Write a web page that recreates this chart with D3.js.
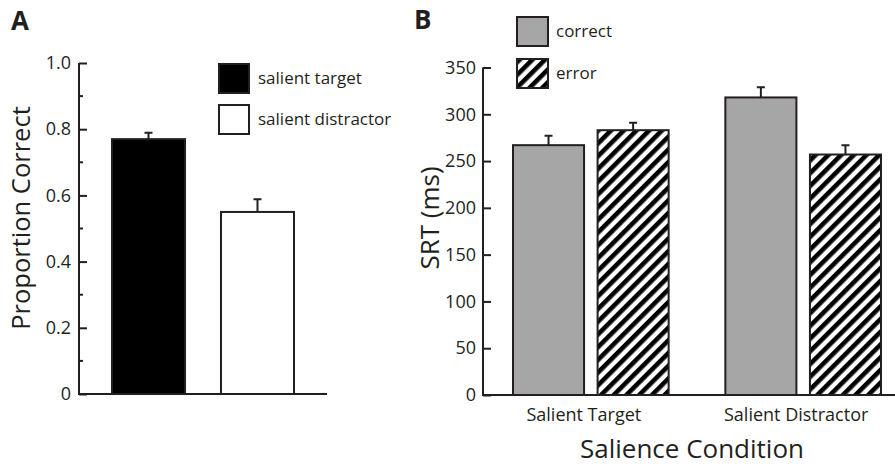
<!DOCTYPE html>
<html>
<head>
<meta charset="utf-8">
<script src="https://cdn.jsdelivr.net/npm/d3@7"></script>
<style>
  body { margin: 0; background: #fff; }
  svg { display: block; font-family: "Open Sans", sans-serif; fill: #231f20; }
  .domain, .tick line { stroke: #231f20; stroke-width: 2; }
</style>
</head>
<body>
<div id="chart"></div>
<script>
// ---- data, panel A ----
var accConditions = ["salient target", "salient distractor"];
var accMeans = [0.77, 0.55];
var accErrors = [0.019, 0.038];
var accFills = ["#000000", "#ffffff"];
var accTicks = [0, 0.2, 0.4, 0.6, 0.8, 1.0];
var accMinorTicks = [0.1, 0.3, 0.5, 0.7, 0.9];

// ---- data, panel B ----
var srtConditions = ["Salient Target", "Salient Distractor"];
var srtOutcomes = ["correct", "error"];
var srtCorrect = [267, 318];
var srtError = [283, 257];
var srtCorrectErr = [10, 11];
var srtErrorErr = [8, 10];
var srtTicks = [0, 50, 100, 150, 200, 250, 300, 350];

var W = 895, H = 466;
var ink = "#231f20";

var svg = d3.select("#chart").append("svg")
    .attr("width", W)
    .attr("height", H);

var defs = svg.append("defs");
var hatch = defs.append("pattern")
    .attr("id", "hatch")
    .attr("patternUnits", "userSpaceOnUse")
    .attr("width", 9)
    .attr("height", 9)
    .attr("patternTransform", "rotate(45)");
hatch.append("rect").attr("width", 9).attr("height", 9).attr("fill", "#fff");
hatch.append("rect").attr("x", 0).attr("width", 4.6).attr("height", 9).attr("fill", "#000");

function styleTicks(g) {
    g.selectAll(".tick text")
        .attr("x", -7)
        .attr("text-anchor", "end")
        .attr("font-size", 18)
        .attr("font-family", "'Open Sans', sans-serif")
        .attr("fill", ink);
}

//<------ panel A ------>
var yA = d3.scaleLinear().domain([0, 1]).range([394, 63]);
var xA = d3.scaleBand().domain(accConditions).range([112, 294]).paddingInner(0.33).paddingOuter(0);

var gA = svg.append("g");

gA.append("g")
    .attr("transform", "translate(79,0)")
    .call(d3.axisRight(yA).tickValues(accTicks).tickSize(8)
        .tickFormat(function(d) { return d === 0 ? "0" : d3.format(".1f")(d); }))
    .call(function(g) {
        g.select(".domain").attr("d", "M0," + yA(0) + "V" + yA(1));
        styleTicks(g);
        g.selectAll(".tick text").attr("x", -8);
    });

gA.append("g")
    .selectAll("line")
    .data(accMinorTicks)
    .enter().append("line")
    .attr("x1", 79).attr("x2", 83)
    .attr("y1", function(d) { return yA(d); })
    .attr("y2", function(d) { return yA(d); })
    .style("stroke", ink).style("stroke-width", 2);

gA.append("line")
    .attr("x1", 78).attr("x2", 327)
    .attr("y1", yA(0)).attr("y2", yA(0))
    .style("stroke", ink).style("stroke-width", 2);

gA.selectAll(".errA")
    .data(accConditions)
    .enter().append("path")
    .attr("class", "errA")
    .attr("d", function(d, i) {
        var cx = xA(d) + xA.bandwidth() / 2;
        var top = yA(accMeans[i] + accErrors[i]);
        return "M" + cx + "," + yA(accMeans[i]) + "V" + top + "M" + (cx - 4) + "," + top + "H" + (cx + 4);
    })
    .style("stroke", ink).style("stroke-width", 2).style("fill", "none");

gA.selectAll(".barA")
    .data(accConditions)
    .enter().append("rect")
    .attr("class", "barA")
    .attr("x", function(d) { return xA(d); })
    .attr("y", function(d, i) { return yA(accMeans[i]); })
    .attr("width", xA.bandwidth())
    .attr("height", function(d, i) { return yA(0) - yA(accMeans[i]); })
    .style("fill", function(d, i) { return accFills[i]; })
    .style("stroke", ink).style("stroke-width", 2);

var legA = gA.selectAll(".legA")
    .data(accConditions)
    .enter().append("g")
    .attr("class", "legA")
    .attr("transform", function(d, i) { return "translate(219," + (64 + i * 41) + ")"; });
legA.append("rect")
    .attr("width", 30).attr("height", 29)
    .style("fill", function(d, i) { return accFills[i]; })
    .style("stroke", ink).style("stroke-width", 2);
legA.append("text")
    .attr("x", 39).attr("y", 20)
    .style("font-size", "17px")
    .text(function(d) { return d; });

gA.append("text")
    .attr("transform", "translate(30,218) rotate(-90)")
    .attr("text-anchor", "middle")
    .style("font-size", "25.5px")
    .text("Proportion Correct");

gA.append("text")
    .attr("x", 11).attr("y", 30)
    .style("font-size", "26px").style("font-weight", "bold")
    .text("A");

//<------ panel B ------>
var yB = d3.scaleLinear().domain([0, 350]).range([395, 67.5]);
var x0 = d3.scaleBand().domain(srtConditions).range([513, 881]).paddingInner(0.267).paddingOuter(0);
var x1 = d3.scaleBand().domain(srtOutcomes).range([0, x0.bandwidth()]).paddingInner(0.16).paddingOuter(0);

var srtRows = [];
srtConditions.forEach(function(c, i) {
    srtRows.push({ cond: c, outcome: "correct", value: srtCorrect[i], err: srtCorrectErr[i] });
    srtRows.push({ cond: c, outcome: "error", value: srtError[i], err: srtErrorErr[i] });
});
var outcomeFill = { correct: "#a6a6a6", error: "url(#hatch)" };

var gB = svg.append("g");

gB.append("g")
    .attr("transform", "translate(483,0)")
    .call(d3.axisRight(yB).tickValues(srtTicks).tickSize(8))
    .call(function(g) {
        g.select(".domain").attr("d", "M0," + yB(0) + "V" + yB(350));
        styleTicks(g);
    });

gB.append("line")
    .attr("x1", 482).attr("x2", 895)
    .attr("y1", yB(0)).attr("y2", yB(0))
    .style("stroke", ink).style("stroke-width", 2);

gB.selectAll(".errB")
    .data(srtRows)
    .enter().append("path")
    .attr("class", "errB")
    .attr("d", function(d) {
        var cx = x0(d.cond) + x1(d.outcome) + x1.bandwidth() / 2;
        var top = yB(d.value + d.err);
        return "M" + cx + "," + yB(d.value) + "V" + top + "M" + (cx - 4) + "," + top + "H" + (cx + 4);
    })
    .style("stroke", ink).style("stroke-width", 2).style("fill", "none");

gB.selectAll(".barB")
    .data(srtRows)
    .enter().append("rect")
    .attr("class", "barB")
    .attr("x", function(d) { return x0(d.cond) + x1(d.outcome); })
    .attr("y", function(d) { return yB(d.value); })
    .attr("width", x1.bandwidth())
    .attr("height", function(d) { return yB(0) - yB(d.value); })
    .style("fill", function(d) { return outcomeFill[d.outcome]; })
    .style("stroke", ink).style("stroke-width", 2);

gB.selectAll(".catB")
    .data(srtConditions)
    .enter().append("text")
    .attr("class", "catB")
    .attr("x", function(d) { return x0(d) + x0.bandwidth() / 2 - 7; })
    .attr("y", 421)
    .attr("text-anchor", "middle")
    .style("font-size", "18px")
    .text(function(d) { return d; });

var legB = gB.selectAll(".legB")
    .data(srtOutcomes)
    .enter().append("g")
    .attr("class", "legB")
    .attr("transform", function(d, i) { return "translate(517," + (17 + i * 42) + ")"; });
legB.append("rect")
    .attr("width", 31).attr("height", 29)
    .style("fill", function(d) { return outcomeFill[d]; })
    .style("stroke", ink).style("stroke-width", 2);
legB.append("text")
    .attr("x", 39).attr("y", 20)
    .style("font-size", "17px")
    .text(function(d) { return d; });

gB.append("text")
    .attr("transform", "translate(439,218) rotate(-90)")
    .attr("text-anchor", "middle")
    .style("font-size", "26px")
    .text("SRT (ms)");

gB.append("text")
    .attr("x", 692).attr("y", 458)
    .attr("text-anchor", "middle")
    .style("font-size", "26px")
    .text("Salience Condition");

gB.append("text")
    .attr("x", 414).attr("y", 29)
    .style("font-size", "26px").style("font-weight", "bold")
    .text("B");
</script>
</body>
</html>
